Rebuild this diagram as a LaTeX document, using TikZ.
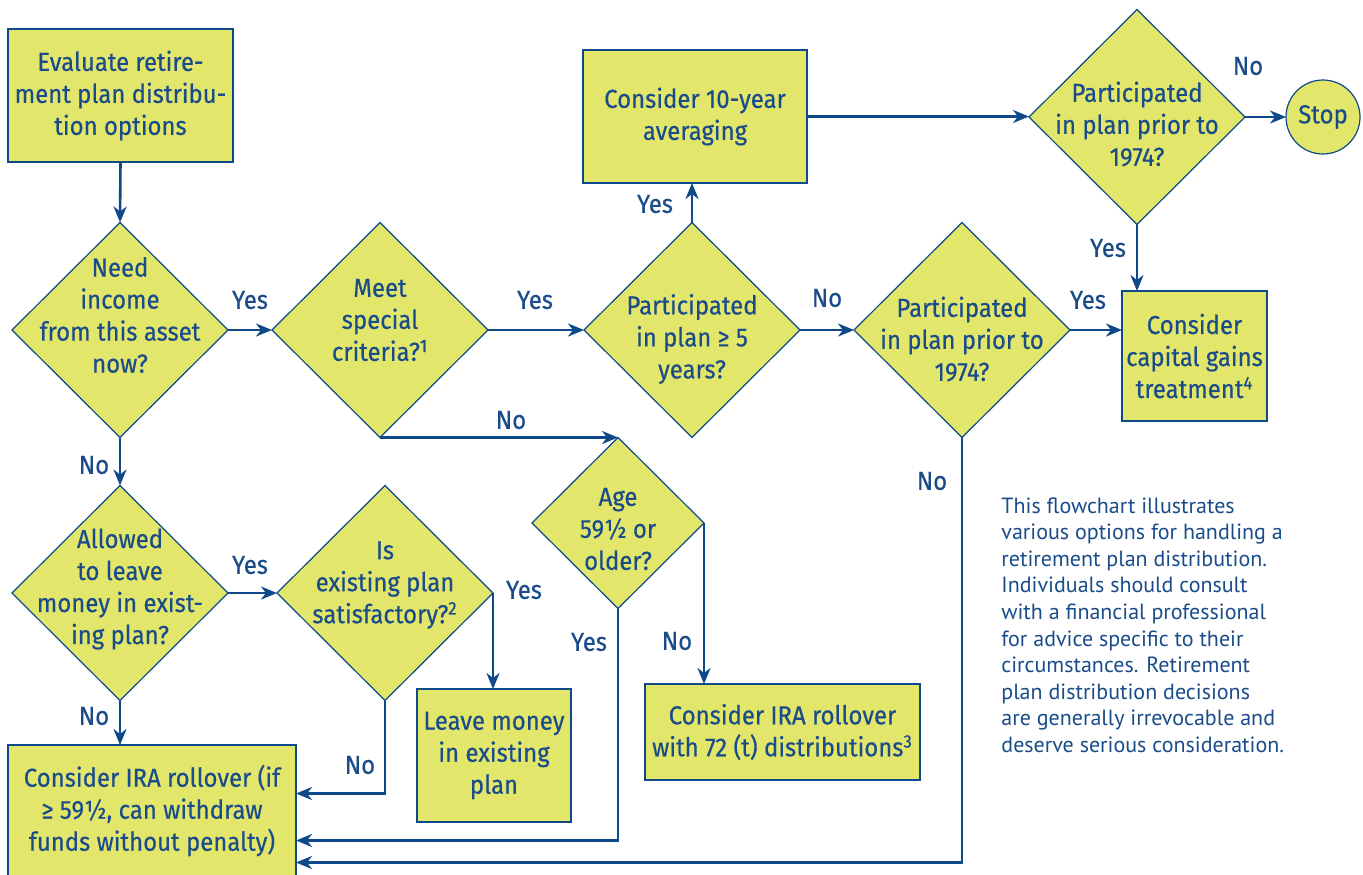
\documentclass[tikz,border=0pt]{standalone}
\usepackage{fontspec}
\setmainfont{Fira Sans}[FakeStretch=0.92, FakeBold=0.4]
\newfontfamily\notefont{PT Sans}
\usetikzlibrary{shapes.geometric,arrows.meta,calc}

\definecolor{chartfill}{HTML}{E2E66B}
\definecolor{chartline}{HTML}{0E4A8A}
\definecolor{chartink}{HTML}{1A4C8A}

\tikzset{
  chartshape/.style={draw=chartline, fill=chartfill, line width=0.6pt, inner sep=0pt, outer sep=0pt},
  stepbox/.style={chartshape, rectangle, align=center, text=chartink, font=\fontsize{13}{16}\selectfont},
  decision/.style={chartshape, diamond, minimum width=108pt, minimum height=107.5pt},
  qtext/.style={align=center, text=chartink, inner sep=0pt, font=\fontsize{13}{16}\selectfont},
  answer/.style={text=chartink, inner sep=0pt, font=\fontsize{13}{16}\selectfont},
  flow/.style={draw=chartline, line width=1.3pt, -{Stealth[length=8pt,width=6.5pt,inset=2.5pt]}}
}

\begin{document}
\begin{tikzpicture}[x=0.5pt, y=-0.5pt]
  \useasboundingbox (0,0) rectangle (1363,874);

  % boxes
  \node[stepbox, minimum width=112.5pt, minimum height=66.5pt] (eval) at (120.5,95.5)
    {Evaluate retire-\\ment plan distribu-\\tion options};
  \node[stepbox, minimum width=112pt, minimum height=66.5pt] (avg) at (695,116.5)
    {Consider 10-year\\averaging};
  \node[stepbox, minimum width=72.5pt, minimum height=65pt] (capital) at (1194.5,356)
    {Consider\\capital gains\\treatment\textsuperscript{4}};
  \node[stepbox, minimum width=77pt, minimum height=66.5pt] (leave) at (494,755.5)
    {Leave money\\in existing\\plan};
  \node[stepbox, minimum width=137.5pt, minimum height=48pt] (ira72) at (782.5,732)
    {Consider IRA rollover\\with 72 (t) distributions\textsuperscript{3}};
  \node[stepbox, minimum width=144pt, minimum height=65.5pt] (ira) at (152,810.5)
    {Consider IRA rollover (if\\≥ 59½, can withdraw\\funds without penalty)};
  \node[chartshape, circle, minimum size=37pt] (stop) at (1323,117) {};
  \node[qtext] (stop-t) at (stop) {Stop};

  % decisions
  \node[decision] (need) at (120,330) {};
  \node[decision] (meet) at (380,330) {};
  \node[decision] (part5) at (692,330) {};
  \node[decision] (prior1) at (1137,117) {};
  \node[decision] (prior2) at (962,330) {};
  \node[decision] (allowed) at (120,593) {};
  \node[decision] (isplan) at (385,593) {};
  \node[chartshape, diamond, minimum width=86pt, minimum height=85.5pt] (age) at (618,523) {};

  \node[qtext] (need-t) at (120,315) {Need\\income\\from this asset\\now?};
  \node[qtext] (meet-t) at (380,320) {Meet\\special\\criteria?\textsuperscript{1}};
  \node[qtext] (part5-t) at (692,339) {Participated\\in plan ≥ 5\\years?};
  \node[qtext] (prior1-t) at (1137,124) {Participated\\in plan prior to\\1974?};
  \node[qtext] (prior2-t) at (962,339) {Participated\\in plan prior to\\1974?};
  \node[qtext] (allowed-t) at (120,589) {Allowed\\to leave\\money in exist-\\ing plan?};
  \node[qtext] (isplan-t) at (385,585) {Is\\existing plan\\satisfactory?\textsuperscript{2}};
  \node[qtext] (age-t) at (618,529) {Age\\59½ or\\older?};

  % connectors
  \draw[flow] (eval.south) -- (need.north);
  \draw[flow] (need.east) -- (meet.west);
  \draw[flow] (meet.east) -- (part5.west);
  \draw[flow] (part5.north) -- (part5.north |- avg.south);
  \draw[flow] (avg.east) -- (avg.east -| prior1.west);
  \draw[flow] (prior1.east) -- (stop.west);
  \draw[flow] (prior1.south) -- (prior1.south |- capital.north);
  \draw[flow] (part5.east) -- (prior2.west);
  \draw[flow] (prior2.east) -- (prior2.east -| capital.west);
  \draw[flow] (meet.south) -- (age.north);
  \draw[flow] (age.east) -- (age.east |- ira72.north);
  \draw[flow] (age.south) |- ($(ira.east)+(0,30)$);
  \draw[flow] (need.south) -- (allowed.north);
  \draw[flow] (allowed.east) -- (isplan.west);
  \draw[flow] (isplan.east) -- (isplan.east |- leave.north);
  \draw[flow] (isplan.south) |- ($(ira.east)+(0,-17)$);
  \draw[flow] (allowed.south) -- (allowed.south |- ira.north);
  \draw[flow] (prior2.south) |- ($(ira.east)+(0,52)$);

  % answers
  \node[answer] (a1) at (250,300) {Yes};
  \node[answer] (a2) at (535,300) {Yes};
  \node[answer] (a3) at (655,204) {Yes};
  \node[answer] (a4) at (827,298) {No};
  \node[answer] (a5) at (1088,300) {Yes};
  \node[answer] (a6) at (1108,248) {Yes};
  \node[answer] (a7) at (1248,66) {No};
  \node[answer] (a8) at (511,420) {No};
  \node[answer] (a9) at (94,465) {No};
  \node[answer] (a10) at (250,565) {Yes};
  \node[answer] (a11) at (524,590) {Yes};
  \node[answer] (a12) at (360,765) {No};
  \node[answer] (a13) at (94,716) {No};
  \node[answer] (a14) at (589,642) {Yes};
  \node[answer] (a15) at (677,641) {No};
  \node[answer] (a16) at (932,481) {No};

  % note
  \node[anchor=north west, align=left, inner sep=0pt, text=chartink,
    font=\notefont\fontsize{11}{13.3}\selectfont] (note) at (1001,497)
    {This flowchart illustrates\\various options for handling a\\retirement plan distribution.\\Individuals should consult\\with a financial professional\\for advice specific to their\\circumstances. Retirement\\plan distribution decisions\\are generally irrevocable and\\deserve serious consideration.};
\end{tikzpicture}
\end{document}
